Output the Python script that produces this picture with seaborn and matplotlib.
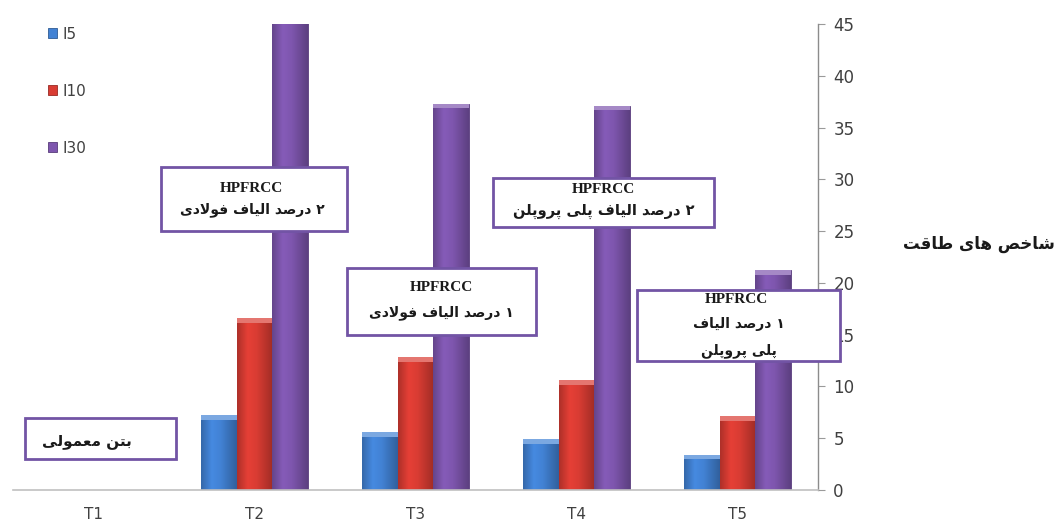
import numpy as np
import pandas as pd
import matplotlib
matplotlib.use("Agg")
import matplotlib.pyplot as plt
import seaborn as sns
from matplotlib.patches import Rectangle
from matplotlib.colors import to_rgb

# ---- data -------------------------------------------------------------
categories = ["T1", "T2", "T3", "T4", "T5"]
series_names = ["I5", "I10", "I30"]
i5_values = [0, 7.2, 5.6, 4.9, 3.4]
i10_values = [0, 16.6, 12.8, 10.6, 7.1]
i30_values = [0, 46.0, 37.3, 37.1, 21.2]
y_ticks = [0, 5, 10, 15, 20, 25, 30, 35, 40, 45]
y_label = "شاخص های طاقت"

# callout texts, one entry per group (lines, top to bottom)
callout_lines = [
    ["بتن معمولی"],
    ["HPFRCC", "۲ درصد الیاف فولادی"],
    ["HPFRCC", "۱ درصد الیاف فولادی"],
    ["HPFRCC", "۲ درصد الیاف پلی پروپلن"],
    ["HPFRCC", "۱ درصد الیاف", "پلی پروپلن"],
]

# ---- style / layout ---------------------------------------------------
series_colors = ["#4282d4", "#d93c33", "#7e56ae"]
box_edge = "#7254a5"
W, H = 1059, 529
AX_L, AX_R, AX_T, AX_B = 13, 818, 24, 490
# callout boxes: (x0, x1, y0, y1) in data units; text offsets (dx, dy) in pixels
callout_boxes = [
    (-0.425, 0.513, 3.0, 6.95),
    (0.419, 1.575, 25.0, 31.2),
    (1.575, 2.75, 15.0, 21.4),
    (2.481, 3.856, 25.4, 30.1),
    (3.375, 4.637, 12.5, 19.35),
]
callout_offsets = [[(-14, 3)], [(-3, -11), (-2, 11)], [(0, -14), (0, 11)],
                   [(0, -13), (0, 9)], [(-2, -26), (0, -1), (0, 26)]]
callout_sizes = [11, 10, 10, 10.5, 10]

# ---- Arabic shaping (presentation forms, visual order) ----------------
FORMS = {
    "ا": ("\uFE8D", "\uFE8E", None, None),
    "ب": ("\uFE8F", "\uFE90", "\uFE91", "\uFE92"),
    "پ": ("\uFB56", "\uFB57", "\uFB58", "\uFB59"),
    "ت": ("\uFE95", "\uFE96", "\uFE97", "\uFE98"),
    "خ": ("\uFEA5", "\uFEA6", "\uFEA7", "\uFEA8"),
    "د": ("\uFEA9", "\uFEAA", None, None),
    "ر": ("\uFEAD", "\uFEAE", None, None),
    "ش": ("\uFEB5", "\uFEB6", "\uFEB7", "\uFEB8"),
    "ص": ("\uFEB9", "\uFEBA", "\uFEBB", "\uFEBC"),
    "ط": ("\uFEC1", "\uFEC2", "\uFEC3", "\uFEC4"),
    "ع": ("\uFEC9", "\uFECA", "\uFECB", "\uFECC"),
    "ف": ("\uFED1", "\uFED2", "\uFED3", "\uFED4"),
    "ق": ("\uFED5", "\uFED6", "\uFED7", "\uFED8"),
    "ل": ("\uFEDD", "\uFEDE", "\uFEDF", "\uFEE0"),
    "م": ("\uFEE1", "\uFEE2", "\uFEE3", "\uFEE4"),
    "ن": ("\uFEE5", "\uFEE6", "\uFEE7", "\uFEE8"),
    "ه": ("\uFEE9", "\uFEEA", "\uFEEB", "\uFEEC"),
    "و": ("\uFEED", "\uFEEE", None, None),
    "ی": ("\uFBFC", "\uFBFD", "\uFBFE", "\uFBFF"),
}


def shape_word(word):
    out = []
    i, n = 0, len(word)
    while i < n:
        c = word[i]
        if c not in FORMS:
            out.append(c)
            i += 1
            continue
        prev_joins = i > 0 and word[i - 1] in FORMS and FORMS[word[i - 1]][2] is not None
        if c == "ل" and i + 1 < n and word[i + 1] == "ا":
            out.append("\uFEFC" if prev_joins else "\uFEFB")
            i += 2
            continue
        iso, fin, ini, med = FORMS[c]
        next_joins = ini is not None and i + 1 < n and word[i + 1] in FORMS
        if prev_joins and next_joins:
            out.append(med)
        elif prev_joins:
            out.append(fin)
        elif next_joins:
            out.append(ini)
        else:
            out.append(iso)
        i += 1
    return "".join(reversed(out))


def shape_line(line):
    # right-to-left: last word is drawn leftmost
    return " ".join(shape_word(w) for w in reversed(line.split(" ")))


# ---- figure -----------------------------------------------------------
sns.set_theme(style="white")
plt.rcParams["font.family"] = ["DejaVu Sans"]

df = pd.DataFrame({
    "group": categories * 3,
    "series": [s for s in series_names for _ in categories],
    "value": i5_values + i10_values + i30_values,
})

fig = plt.figure(figsize=(W / 100, H / 100), dpi=100)
ax = fig.add_axes([AX_L / W, 1 - AX_B / H, (AX_R - AX_L) / W, (AX_B - AX_T) / H])

sns.barplot(data=df, x="group", y="value", hue="series", hue_order=series_names,
            palette=series_colors, width=0.67, saturation=1, ax=ax, legend=False)

y_max = y_ticks[-1]

# cylinder-like shading on each bar
for p in list(ax.patches):
    x, y, w, h = p.get_x(), p.get_y(), p.get_width(), p.get_height()
    if h <= 0:
        continue
    top = min(y + h, y_max)
    base = np.array(to_rgb(p.get_facecolor()))
    prof = np.interp(np.linspace(0, 1, 64), [0, 0.3, 0.55, 1], [0.80, 1.06, 1.0, 0.74])
    img = np.clip(base[None, :] * prof[:, None], 0, 1)[None, :, :]
    im = ax.imshow(img, extent=(x, x + w, y, top), aspect="auto",
                   interpolation="bicubic", zorder=p.get_zorder() + 0.1)
    im.set_clip_path(p)
    p.set_edgecolor(tuple(base * 0.7))
    p.set_linewidth(0.6)
    if y + h <= y_max:
        cap_h = 0.45
        light = np.clip(base + (1 - base) * 0.3, 0, 1)
        ax.add_patch(Rectangle((x, y + h - cap_h), w, cap_h, facecolor=light,
                               edgecolor="none", zorder=p.get_zorder() + 0.2))

ax.set_xlim(-0.5, 4.5)
ax.set_ylim(0, y_max)
ax.set_yticks(y_ticks)
ax.set_xlabel("")
ax.set_ylabel("")

ax.yaxis.tick_right()
for s in ["left", "top"]:
    ax.spines[s].set_visible(False)
ax.spines["right"].set_color("#8c8c8c")
ax.spines["right"].set_linewidth(1.0)
ax.spines["bottom"].set_color("#c0c0c0")
ax.spines["bottom"].set_linewidth(1.2)
ax.tick_params(axis="y", right=True, length=5, width=0.8, color="#9a9a9a",
               labelsize=12, labelcolor="#404040", pad=6)
ax.tick_params(axis="x", length=0, labelsize=11, labelcolor="#404040", pad=12)

# legend
handles = [Rectangle((0, 0), 1, 1, facecolor=c, edgecolor=tuple(np.array(to_rgb(c)) * 0.7),
                     linewidth=0.6) for c in series_colors]
fig.legend(handles, series_names, loc="upper left", bbox_to_anchor=(40 / W, 1 - 19 / H),
           frameon=False, labelspacing=2.75, handlelength=0.6, handleheight=0.6,
           handletextpad=0.35, fontsize=11, labelcolor="#404040", borderpad=0)

# callout boxes
for (x0, x1, y0, y1), lines, offs, fsize in zip(callout_boxes, callout_lines,
                                                 callout_offsets, callout_sizes):
    ax.add_patch(Rectangle((x0, y0), x1 - x0, y1 - y0, facecolor="white",
                           edgecolor=box_edge, linewidth=2.0, zorder=6, clip_on=False))
    cx, cy = (x0 + x1) / 2, (y0 + y1) / 2
    for line, (dx, dy) in zip(lines, offs):
        if line == "HPFRCC":
            kw = dict(family="Liberation Serif", fontsize=11, fontweight="bold", color="#1a1a1a")
        else:
            kw = dict(family="DejaVu Sans", fontsize=fsize, fontweight="bold", color="#1a1a1a")
            line = shape_line(line)
        ax.annotate(line, xy=(cx, cy), xytext=(dx * 0.72, -dy * 0.72), textcoords="offset points",
                    ha="center", va="center", zorder=7, annotation_clip=False, **kw)

fig.text(979 / W, 1 - 244 / H, shape_line(y_label), ha="center", va="center",
         fontsize=12, fontweight="bold", color="#1a1a1a", family="DejaVu Sans")

fig.savefig("out.png", dpi=100)
